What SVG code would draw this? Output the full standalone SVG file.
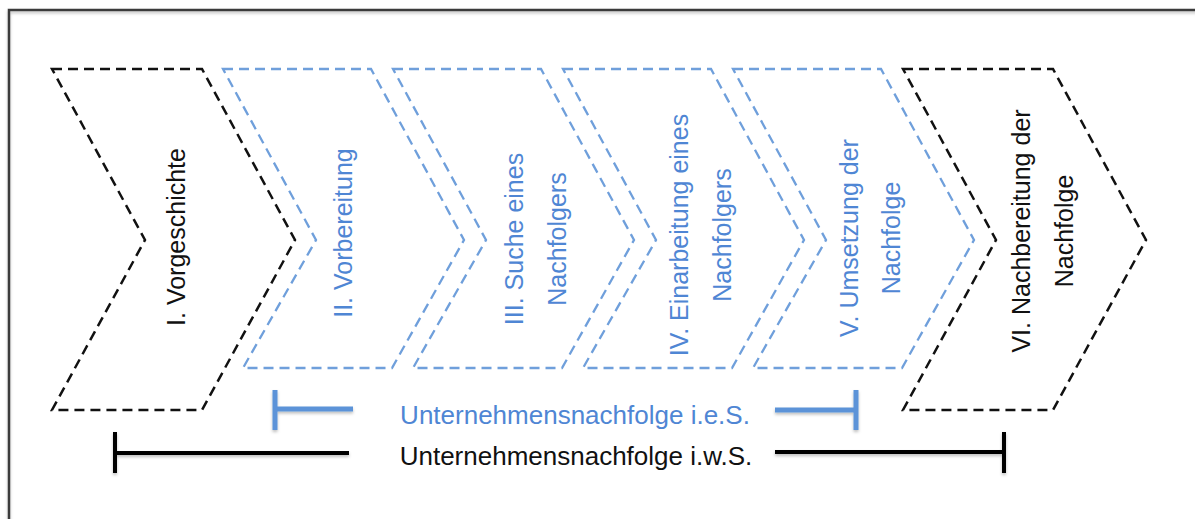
<svg xmlns="http://www.w3.org/2000/svg" xmlns:xlink="http://www.w3.org/1999/xlink" width="1195" height="519" viewBox="0 0 1195 519">
<style>
.frame{fill:none;stroke:#3a3a3a;stroke-width:2.5}
.chevK{fill:none;stroke:#111;stroke-width:2.5;stroke-dasharray:10 6}
.chevB{fill:none;stroke:#6f9fdb;stroke-width:2.3;stroke-dasharray:10 6}
.lblK{font-family:"Liberation Sans",Arial,sans-serif;font-size:25px;fill:#111;text-anchor:middle}
.lblB{font-family:"Liberation Sans",Arial,sans-serif;font-size:25px;fill:#4f86d4;text-anchor:middle}
.brK{fill:none;stroke:#000;stroke-width:4}
.brB{fill:none;stroke:#5b93d8;stroke-width:5}
</style>
<defs>
<filter id="sh" x="-5%" y="-50%" width="110%" height="200%">
<feDropShadow dx="0" dy="2" stdDeviation="1.5" flood-color="#000" flood-opacity="0.25"/>
</filter>
<path id="chevBig" d="M0,69 L150,69 L243,240 L150,410 L0,410 L93,240 Z"/>
<path id="chevSmall" d="M0,69 L148,69 L241,240 L169,368 L20,368 L93,240 Z"/>
</defs>
<rect class="frame" x="9" y="10" width="1200" height="520" filter="url(#sh)"/>

<g id="node-I">
<use xlink:href="#chevBig" href="#chevBig" class="chevK" transform="translate(52,0)"/>
<text class="lblK" transform="translate(185,237) rotate(-90)">I. Vorgeschichte</text>
</g>
<g id="node-II">
<use xlink:href="#chevSmall" href="#chevSmall" class="chevB" transform="translate(223,0)"/>
<text class="lblB" transform="translate(352,233) rotate(-90)">II. Vorbereitung</text>
</g>
<g id="node-III">
<use xlink:href="#chevSmall" href="#chevSmall" class="chevB" transform="translate(393,0)"/>
<text class="lblB" transform="translate(523,239) rotate(-90)">III. Suche eines</text>
<text class="lblB" transform="translate(566,239) rotate(-90)">Nachfolgers</text>
</g>
<g id="node-IV">
<use xlink:href="#chevSmall" href="#chevSmall" class="chevB" transform="translate(563,0)"/>
<text class="lblB" transform="translate(688,235) rotate(-90)">IV. Einarbeitung eines</text>
<text class="lblB" transform="translate(731,235) rotate(-90)">Nachfolgers</text>
</g>
<g id="node-V">
<use xlink:href="#chevSmall" href="#chevSmall" class="chevB" transform="translate(733,0)"/>
<text class="lblB" transform="translate(858,238) rotate(-90)">V. Umsetzung der</text>
<text class="lblB" transform="translate(900,238) rotate(-90)">Nachfolge</text>
</g>
<g id="node-VI">
<use xlink:href="#chevBig" href="#chevBig" class="chevK" transform="translate(903,0)"/>
<text class="lblK" transform="translate(1030,231) rotate(-90)">VI. Nachbereitung der</text>
<text class="lblK" transform="translate(1073,231) rotate(-90)">Nachfolge</text>
</g>

<g id="connectors">
<g filter="url(#sh)">
<path class="brB" d="M275,390 V430 M275,409 H353 M775,410 H856 M856,390 V430"/>
<path class="brK" d="M115,432 V473 M115,453 H349 M775,452 H1004 M1004,432 V473"/>
</g>
<text class="lblB" x="575" y="424" style="font-size:26px">Unternehmensnachfolge i.e.S.</text>
<text class="lblK" x="576" y="465" style="font-size:26px">Unternehmensnachfolge i.w.S.</text>
</g>
</svg>
